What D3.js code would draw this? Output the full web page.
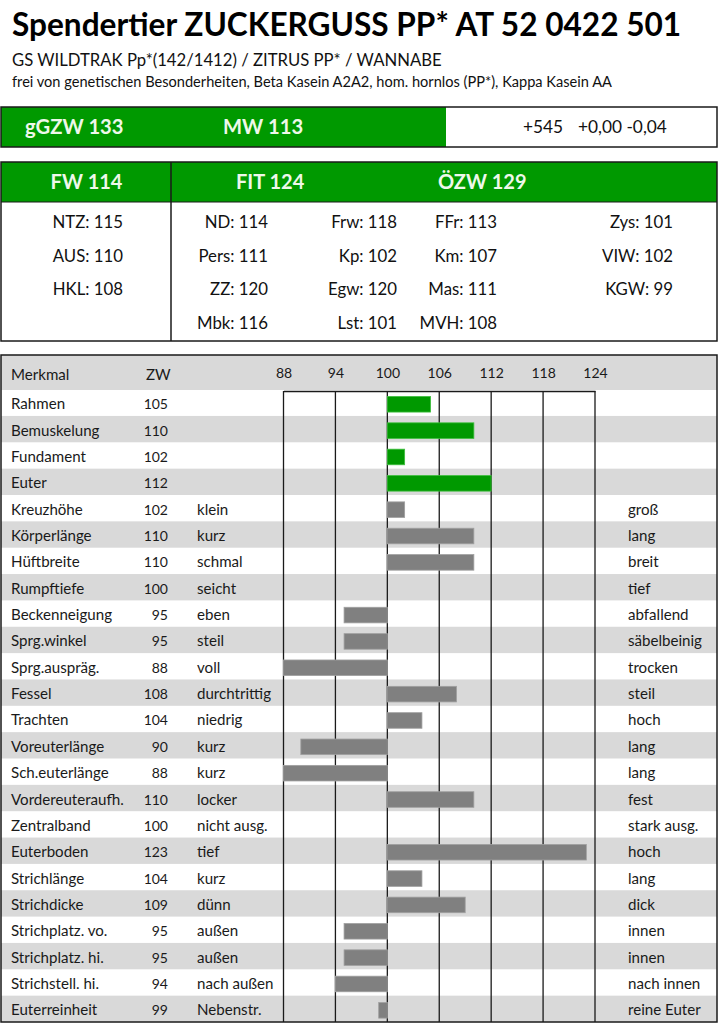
<!DOCTYPE html>
<html><head><meta charset="utf-8">
<script src="https://cdn.jsdelivr.net/npm/d3@7"></script>
<style>
body{margin:0;background:#fff;}
svg{display:block;font-family:Lato,"Open Sans",sans-serif;}
</style></head>
<body><svg id="c" width="718" height="1024"></svg>
<script>
// ---------- data ----------
const title = "Spendertier ZUCKERGUSS PP* AT 52 0422 501";
const pedigree = "GS WILDTRAK Pp*(142/1412) / ZITRUS PP* / WANNABE";
const genetics = "frei von genetischen Besonderheiten, Beta Kasein A2A2, hom. hornlos (PP*), Kappa Kasein AA";
const topIndices = ["gGZW 133", "MW 113"];
const milkInfo = ["+545", "+0,00 -0,04"];
const groupHeads = ["FW 114", "FIT 124", "ÖZW 129"];
const fwValues = ["NTZ: 115", "AUS: 110", "HKL: 108"];
const fitCol1 = ["ND: 114", "Pers: 111", "ZZ: 120", "Mbk: 116"];
const fitCol2 = ["Frw: 118", "Kp: 102", "Egw: 120", "Lst: 101"];
const ozwCol1 = ["FFr: 113", "Km: 107", "Mas: 111", "MVH: 108"];
const ozwCol2 = ["Zys: 101", "VIW: 102", "KGW: 99"];

const traits = ["Rahmen","Bemuskelung","Fundament","Euter","Kreuzhöhe","Körperlänge","Hüftbreite","Rumpftiefe","Beckenneigung","Sprg.winkel","Sprg.auspräg.","Fessel","Trachten","Voreuterlänge","Sch.euterlänge","Vordereuteraufh.","Zentralband","Euterboden","Strichlänge","Strichdicke","Strichplatz. vo.","Strichplatz. hi.","Strichstell. hi.","Euterreinheit"];
const zw = [105,110,102,112,102,110,110,100,95,95,88,108,104,90,88,110,100,123,104,109,95,95,94,99];
const lowLabels = ["","","","","klein","kurz","schmal","seicht","eben","steil","voll","durchtrittig","niedrig","kurz","kurz","locker","nicht ausg.","tief","kurz","dünn","außen","außen","nach außen","Nebenstr."];
const highLabels = ["","","","","groß","lang","breit","tief","abfallend","säbelbeinig","trocken","steil","hoch","lang","lang","fest","stark ausg.","hoch","lang","dick","innen","innen","nach innen","reine Euter"];
const mainTraitCount = 4;
const ticks = [88,94,100,106,112,118,124];
const headMerkmal = "Merkmal", headZW = "ZW";

// ---------- style ----------
const GREEN = "#009900", GRAY = "#808080", STRIPE = "#d9d9d9", INK = "#1a1a1a", LIGHT = "#eef8ea";
const TXT = 15.1, NUM = 14;
const svg = d3.select("#c");

// header texts
svg.append("text").attr("x",12).attr("y",36).attr("font-size",31.6).attr("font-weight",700).attr("fill","#000").text(title);
svg.append("text").attr("x",12).attr("y",66).attr("font-size",16.7).attr("fill","#111").text(pedigree);
svg.append("text").attr("x",12).attr("y",87).attr("font-size",14.6).attr("fill","#111").text(genetics);

// box 1
svg.append("rect").attr("x",1).attr("y",107).attr("width",445).attr("height",40).attr("fill",GREEN);
svg.append("rect").attr("x",1).attr("y",107).attr("width",716).attr("height",40).attr("fill","none").attr("stroke",INK).attr("stroke-width",1.5);
svg.selectAll(".ti").data(topIndices).join("text").attr("x",(d,i)=>[25,223][i]).attr("y",134)
  .attr("font-size",20.2).attr("font-weight",700).attr("fill",LIGHT).text(d=>d);
svg.selectAll(".mi").data(milkInfo).join("text").attr("x",(d,i)=>[523,578][i]).attr("y",133)
  .attr("font-size",17.3).attr("fill","#111").text(d=>d);

// box 2
svg.append("rect").attr("x",1).attr("y",162).attr("width",716).attr("height",40).attr("fill",GREEN);
svg.append("rect").attr("x",1).attr("y",162).attr("width",716).attr("height",179).attr("fill","none").attr("stroke",INK).attr("stroke-width",1.5);
svg.append("line").attr("x1",1).attr("x2",717).attr("y1",202).attr("y2",202).attr("stroke",INK).attr("stroke-width",1);
svg.append("line").attr("x1",171).attr("x2",171).attr("y1",162).attr("y2",341).attr("stroke",INK).attr("stroke-width",1.5);
svg.selectAll(".gh").data(groupHeads).join("text")
  .attr("x",(d,i)=>[86.5,236,438][i]).attr("y",189).attr("text-anchor",(d,i)=>i===0?"middle":"start")
  .attr("font-size",20).attr("font-weight",700).attr("fill",LIGHT).text(d=>d);
const valueCols = [[fwValues,123],[fitCol1,268],[fitCol2,397],[ozwCol1,497],[ozwCol2,673]];
const rowY = d3.scaleLinear().domain([0,1]).range([228,261.7]);
valueCols.forEach(([arr,xr])=>{
  svg.append("g").selectAll("text").data(arr).join("text")
    .attr("x",xr).attr("y",(d,i)=>rowY(i)).attr("text-anchor","end")
    .attr("font-size",16.8).attr("fill","#111").text(d=>d);
});

// ---------- chart ----------
const chartTop = 355, headH = 35, rowH = 26.35;
const rowsTop = chartTop + headH - 0.4;
const x = d3.scaleLinear().domain([88,124]).range([283.5,595]);
const y = d3.scaleBand().domain(d3.range(traits.length)).range([rowsTop, rowsTop + rowH*traits.length]).paddingInner(0);
const chartBottom = rowsTop + rowH*traits.length;

svg.append("rect").attr("x",1).attr("y",chartTop).attr("width",716).attr("height",headH).attr("fill",STRIPE);
svg.append("g").selectAll("rect").data(d3.range(traits.length).filter(i=>i%2===1)).join("rect")
  .attr("x",1).attr("width",716).attr("y",i=>y(i)).attr("height",y.bandwidth()).attr("fill",STRIPE);

// gridlines
svg.append("g").selectAll("line").data(ticks).join("line")
  .attr("x1",d=>x(d)).attr("x2",d=>x(d)).attr("y1",391).attr("y2",chartBottom)
  .attr("stroke",INK).attr("stroke-width",1.3);

// bars
const barH = 15.6;
svg.append("g").selectAll("rect").data(zw).join("rect")
  .attr("x",d=>x(Math.min(d,100))).attr("width",d=>Math.abs(x(d)-x(100)))
  .attr("y",(d,i)=>y(i)+(rowH-barH)/2+1.5).attr("height",barH)
  .attr("fill",(d,i)=>i<mainTraitCount?GREEN:GRAY)
  .attr("stroke",(d,i)=>i<mainTraitCount?"#3fbf3f":"#a0a0a0").attr("stroke-width",0.8);

// axis on top
const ax = svg.append("g").attr("transform","translate(0,391)")
  .call(d3.axisTop(x).tickValues(ticks).tickSize(0).tickSizeOuter(0).tickPadding(13.5));
ax.select(".domain").attr("stroke",INK).attr("stroke-width",1.3);
ax.selectAll("text").attr("font-size",NUM).attr("fill",INK).attr("font-family","Lato,sans-serif");

// header labels
svg.append("text").attr("x",11).attr("y",379.5).attr("font-size",TXT).attr("fill",INK).text(headMerkmal);
svg.append("text").attr("x",146).attr("y",379.5).attr("font-size",TXT).attr("fill",INK).text(headZW);

// row texts
const ty = i => y(i) + rowH/2 + 6.5;
svg.append("g").selectAll("text").data(traits).join("text").attr("x",11).attr("y",(d,i)=>ty(i))
  .attr("font-size",TXT).attr("fill",INK).text(d=>d);
svg.append("g").selectAll("text").data(zw).join("text").attr("x",168).attr("y",(d,i)=>ty(i)).attr("text-anchor","end")
  .attr("font-size",NUM).attr("fill",INK).text(d=>d);
svg.append("g").selectAll("text").data(lowLabels).join("text").attr("x",197).attr("y",(d,i)=>ty(i))
  .attr("font-size",TXT).attr("fill",INK).text(d=>d);
svg.append("g").selectAll("text").data(highLabels).join("text").attr("x",628).attr("y",(d,i)=>ty(i))
  .attr("font-size",TXT).attr("fill",INK).text(d=>d);

// chart border
svg.append("rect").attr("x",1).attr("y",chartTop).attr("width",716).attr("height",chartBottom-chartTop).attr("fill","none").attr("stroke",INK).attr("stroke-width",1.5);
</script></body></html>
